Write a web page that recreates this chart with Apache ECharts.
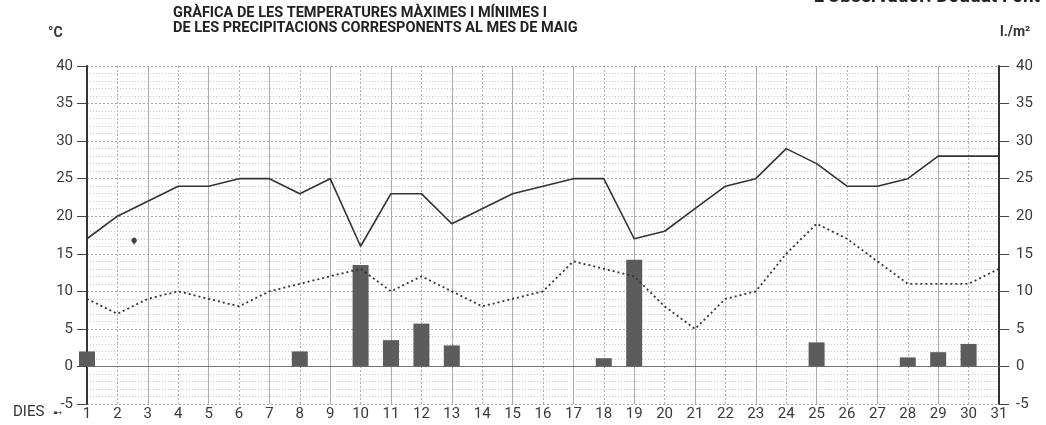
<!DOCTYPE html>
<html>
<head>
<meta charset="utf-8">
<script src="https://cdn.jsdelivr.net/npm/echarts@6/dist/echarts.min.js"></script>
<style>
    html, body { margin: 0; padding: 0; background: #fff; }
    #test { width: 1046px; height: 425px; }
</style>
</head>
<body>
<div id="test"></div>
<script>
var days = [];
for (var d = 1; d <= 31; d++) { days.push(d); }
var maxTemp = [17, 20, 22, 24, 24, 25, 25, 23, 25, 16, 23, 23, 19, 21, 23, 24, 25, 25, 17, 18, 21, 24, 25, 29, 27, 24, 24, 25, 28, 28, 28];
var minTemp = [9, 7, 9, 10, 9, 8, 10, 11, 12, 13, 10, 12, 10, 8, 9, 10, 14, 13, 12, 8, 5, 9, 10, 15, 19, 17, 14, 11, 11, 11, 13];
var rainDays = [1, 8, 10, 11, 12, 13, 18, 19, 25, 28, 29, 30];
var rain = [2, 2, 13.5, 3.5, 5.7, 2.8, 1.1, 14.2, 3.2, 1.2, 1.9, 3];
var blot = [[2.55, 16.1]];

var font = 'Roboto, "Liberation Sans", sans-serif';

function pairs(xs, ys) {
    var out = [];
    for (var i = 0; i < xs.length; i++) {
        out.push([xs[i], ys[i]]);
    }
    return out;
}

var myChart = echarts.init(document.getElementById('test'));

var yAxisCommon = {
    type: 'value',
    min: -5,
    max: 40,
    interval: 5,
    axisLine: { show: true, lineStyle: { color: '#333', width: 2 } },
    axisTick: { show: true, length: 10, lineStyle: { color: '#444', width: 1 } },
    axisLabel: { color: '#3a3a3a', fontFamily: font, fontSize: 15 },
    splitLine: { show: true, lineStyle: { color: '#aaa', type: [2, 2], width: 1 } },
    minorTick: { show: false, splitNumber: 5 },
    minorSplitLine: { show: true, lineStyle: { color: '#c8c8c8', type: [1, 2], width: 1 } }
};

option = {
    animation: false,
    backgroundColor: '#fff',
    grid: { left: 87, right: 47, top: 66, bottom: 21 },
    xAxis: [{
        type: 'value',
        min: 1,
        max: 31,
        interval: 1,
        position: 'bottom',
        axisLine: { show: false, onZero: false },
        axisTick: { show: false },
        axisLabel: { color: '#3a3a3a', fontFamily: font, fontSize: 15, margin: 3 },
        splitLine: { show: true, lineStyle: { color: '#b0b0b0', type: [2, 2], width: 1 } }
    }, {
        type: 'value',
        min: 1,
        max: 31,
        interval: 2,
        position: 'top',
        axisLine: { show: true, onZero: true, lineStyle: { color: '#777', width: 1 } },
        axisTick: { show: false },
        axisLabel: { show: false },
        splitLine: { show: true, lineStyle: { color: '#ababab', type: 'solid', width: 1 } }
    }],
    yAxis: [
        echarts.util.merge({ position: 'left', axisLabel: { margin: 14 } }, yAxisCommon, true),
        echarts.util.merge({ position: 'right', axisLabel: { margin: 17 }, splitLine: { show: false }, minorSplitLine: { show: false } }, yAxisCommon, false)
    ],
    series: [{
        name: 'Precipitacions',
        type: 'bar',
        xAxisIndex: 0,
        yAxisIndex: 1,
        barWidth: 16,
        itemStyle: { color: '#5c5c5c' },
        data: pairs(rainDays, rain)
    }, {
        name: 'Màximes',
        type: 'line',
        xAxisIndex: 0,
        yAxisIndex: 0,
        symbol: 'none',
        lineStyle: { color: '#333', width: 1.6 },
        data: pairs(days, maxTemp)
    }, {
        name: 'Mínimes',
        type: 'line',
        xAxisIndex: 0,
        yAxisIndex: 0,
        symbol: 'none',
        lineStyle: { color: '#333', width: 1.8, type: [2, 3] },
        data: pairs(days, minTemp)
    }, {
        name: 'taca',
        type: 'scatter',
        xAxisIndex: 0,
        yAxisIndex: 0,
        symbol: 'pin',
        symbolSize: 9,
        itemStyle: { color: '#111' },
        data: blot
    }],
    graphic: [{
        type: 'text', left: 173, top: 6,
        style: { text: 'GRÀFICA DE LES TEMPERATURES MÀXIMES I MÍNIMES I', font: 'bold 14.5px ' + font, fill: '#222' }
    }, {
        type: 'text', left: 173, top: 21,
        style: { text: 'DE LES PRECIPITACIONS CORRESPONENTS AL MES DE MAIG', font: 'bold 14.5px ' + font, fill: '#222' }
    }, {
        type: 'text', right: 6, top: -12,
        style: { text: 'L\'Observador: Doudat Font', font: 'bold 19px ' + font, fill: '#222' }
    }, {
        type: 'text', left: 48, top: 26,
        style: { text: '°C', font: 'bold 14px ' + font, fill: '#333' }
    }, {
        type: 'text', left: 1000, top: 25,
        style: { text: 'l./m²', font: 'bold 14px ' + font, fill: '#333' }
    }, {
        type: 'text', left: 13, top: 405,
        style: { text: 'DIES', font: '15px ' + font, fill: '#333' }
    }, {
        type: 'text', left: 53, top: 408,
        style: { text: '➸', font: '11px "DejaVu Sans"', fill: '#333' }
    }]
};
myChart.setOption(option);
</script>
</body>
</html>
